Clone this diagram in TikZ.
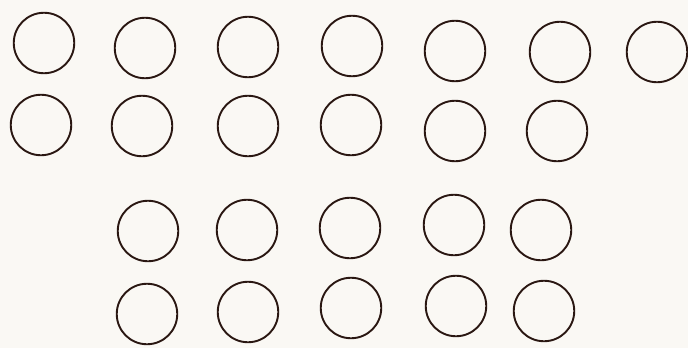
\documentclass[tikz,border=0pt]{standalone}
\definecolor{ink}{HTML}{2A1712}
\definecolor{paper}{HTML}{FAF8F4}
\begin{document}
\begin{tikzpicture}[x=1pt,y=-1pt,
  ring/.style={circle,draw=ink,line width=1.9pt,minimum size=60.5pt,inner sep=0pt}]
\fill[paper] (0,0) rectangle (688,348);
\useasboundingbox (0,0) rectangle (688,348);
% row 1
\node[ring] (a1) at (44,43) {};
\node[ring] (a2) at (145,48) {};
\node[ring] (a3) at (248,47) {};
\node[ring] (a4) at (352,46) {};
\node[ring] (a5) at (455,51) {};
\node[ring] (a6) at (560,52) {};
\node[ring] (a7) at (657,52) {};
% row 2
\node[ring] (b1) at (41,125) {};
\node[ring] (b2) at (142,126) {};
\node[ring] (b3) at (248,126) {};
\node[ring] (b4) at (351,125) {};
\node[ring] (b5) at (455,131) {};
\node[ring] (b6) at (557,131) {};
% row 3
\node[ring] (c1) at (148,231) {};
\node[ring] (c2) at (247,230) {};
\node[ring] (c3) at (350,228) {};
\node[ring] (c4) at (454,225) {};
\node[ring] (c5) at (541,230) {};
% row 4
\node[ring] (d1) at (147,314) {};
\node[ring] (d2) at (248,312) {};
\node[ring] (d3) at (351,308) {};
\node[ring] (d4) at (456,306) {};
\node[ring] (d5) at (544,311) {};
\end{tikzpicture}
\end{document}
